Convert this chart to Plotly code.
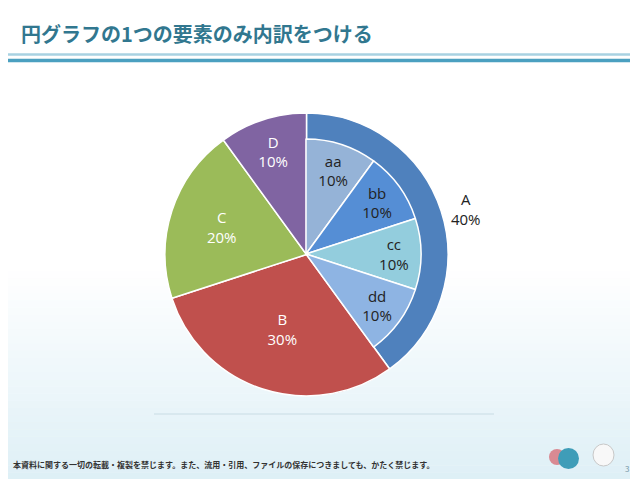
import plotly.graph_objects as go

outer_labels = ['A', 'B', 'C', 'D']
outer_values = [40, 30, 20, 10]
outer_colors = ['#4F81BD', '#C0504D', '#9BBB59', '#8064A2']

inner_labels = ['aa', 'bb', 'cc', 'dd', '']
inner_values = [10, 10, 10, 10, 60]
inner_colors = ['#95B3D7', '#558ED5', '#93CDDD', '#8EB4E3', 'rgba(0,0,0,0)']

title = '円グラフの1つの要素のみ内訳をつける'
footer = '本資料に関する一切の転載・複製を禁じます。また、流用・引用、ファイルの保存につきましても、かたく禁じます。'

W, H = 638, 479
fnt = 'Noto Sans CJK JP'
dx, dy = -9, -8  # compensation for page offset


def px(x):
    return (x + dx) / W


def py(y):
    return 1 - (y + dy) / H


fig = go.Figure()
fig.add_trace(go.Pie(
    labels=outer_labels, values=outer_values, sort=False, direction='clockwise', rotation=0,
    marker=dict(colors=outer_colors, line=dict(color='white', width=1.5)),
    texttemplate='%{label}<br>%{percent:.0%}', textposition=['outside', 'inside', 'inside', 'inside'],
    insidetextorientation='horizontal',
    textfont=dict(family='Open Sans', size=15, color=['#222', 'white', 'white', 'white']),
    domain=dict(x=[px(166), px(449)], y=[py(396), py(113)]), showlegend=False))
fig.add_trace(go.Pie(
    labels=inner_labels, values=inner_values, sort=False, direction='clockwise', rotation=0,
    marker=dict(colors=inner_colors, line=dict(color=['white'] * 4 + ['rgba(0,0,0,0)'], width=1.5)),
    texttemplate=['%{label}<br>%{percent:.0%}'] * 4 + [''], textposition='inside',
    insidetextorientation='horizontal',
    textfont=dict(family='Open Sans', size=15, color='#222'),
    domain=dict(x=[px(192), px(422)], y=[py(369), py(139)]), showlegend=False, hoverinfo='skip'))

shapes = []
# slide background gradient
n = 30
for i in range(n):
    y0 = 0.45 * i / n
    y1 = 0.45 * (i + 1) / n
    a = 0.45 * (1 - i / n)
    shapes.append(dict(type='rect', xref='paper', yref='paper', x0=0, x1=1, y0=y0, y1=y1,
                       fillcolor=f'rgba(180,220,235,{a:.3f})', line_width=0, layer='below'))
shapes += [
    dict(type='line', xref='paper', yref='paper', x0=0, x1=1, y0=py(54.5), y1=py(54.5),
         line=dict(color='#A8D2E2', width=2.5)),
    dict(type='line', xref='paper', yref='paper', x0=0, x1=1, y0=py(60.5), y1=py(60.5),
         line=dict(color='#4BA0C0', width=3.5)),
    dict(type='line', xref='paper', yref='paper', x0=px(155), x1=px(495), y0=py(414), y1=py(414),
         line=dict(color='#C8DCE4', width=1)),
    dict(type='circle', xref='paper', yref='paper', x0=px(550), x1=px(566), y0=py(465), y1=py(449),
         fillcolor='#D98A93', line_width=0),
    dict(type='circle', xref='paper', yref='paper', x0=px(559), x1=px(580), y0=py(469), y1=py(448),
         fillcolor='#3F9DB8', line_width=0),
    dict(type='circle', xref='paper', yref='paper', x0=px(594), x1=px(615), y0=py(466), y1=py(444),
         fillcolor='#F8F8F8', line=dict(color='#C8C8C8', width=1)),
]

annotations = [
    dict(text=f'<b>{title}</b>', x=px(20), y=py(33), xref='paper', yref='paper', xanchor='left',
         yanchor='middle', showarrow=False, font=dict(family=fnt, size=20, color='#31778F')),
    dict(text=f'<b>{footer}</b>', x=px(12), y=py(464), xref='paper', yref='paper', xanchor='left',
         yanchor='middle', showarrow=False, font=dict(family=fnt, size=8, color='#333')),
    dict(text='3', x=px(628), y=py(468), xref='paper', yref='paper', xanchor='center',
         yanchor='middle', showarrow=False, font=dict(family=fnt, size=8, color='#7A9AA8')),
]

fig.update_layout(width=W, height=H, margin=dict(l=0, r=0, t=0, b=0),
                  paper_bgcolor='white', plot_bgcolor='white',
                  shapes=shapes, annotations=annotations)
fig.write_html('out.html')
